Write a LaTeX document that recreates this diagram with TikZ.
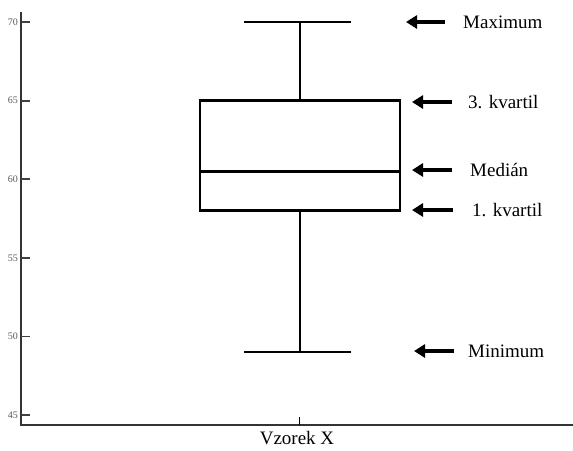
\documentclass[tikz,border=0pt]{standalone}
\usepackage{fontspec}
\setmainfont{Liberation Serif}
\usetikzlibrary{arrows.meta,calc}
\tikzset{
    axisline/.style={line width=2.6pt, color=black!80},
    tickline/.style={line width=1.8pt, color=black!75},
    ticklabel/.style={anchor=east, font=\fontsize{10}{11}\selectfont, text=black!65, inner sep=0pt},
    boxline/.style={line width=2.4pt, line cap=rect},
    ptr/.style={line width=4.5pt, -{Triangle[length=11pt,width=13pt]}},
    lbl/.style={anchor=west, font=\fontsize{19}{21}\selectfont, inner sep=0pt}
}
\newcommand{\yof}[1]{22+(70-#1)*15.72}

\begin{document}
\begin{tikzpicture}[x=1pt, y=-1pt]
    \useasboundingbox (0,0) rectangle (573,450);
    % axes
    \draw[axisline] (21,12) -- (21,425) -- (573,425);
    \foreach \v in {45,50,...,70} {
        \pgfmathsetmacro{\yy}{\yof{\v}}
        \draw[tickline] (21,\yy) -- (30,\yy);
        \node[ticklabel] (t\v) at (18,\yy) {\v};
    }
    \draw[line width=1pt] (299,417) -- (299,425);
    \node[font=\fontsize{19}{21}\selectfont, inner sep=0pt] (xlab) at (297,438) {Vzorek X};

    % box and whiskers
    \pgfmathsetmacro{\ymax}{\yof{70}}
    \pgfmathsetmacro{\yqc}{\yof{65}}
    \pgfmathsetmacro{\ymed}{\yof{60.5}}
    \pgfmathsetmacro{\yqa}{\yof{58}}
    \pgfmathsetmacro{\ymin}{\yof{49}}
    \draw[boxline] (200,\yqc) rectangle (400,\yqa);
    \draw[boxline] (200,\ymed) -- (400,\ymed);
    \draw[boxline] (300,\yqc) -- (300,\ymax);
    \draw[boxline] (300,\yqa) -- (300,\ymin);
    \draw[boxline] (245,\ymax) -- (350,\ymax);
    \draw[boxline] (245,\ymin) -- (350,\ymin);

    % labels
    \node[lbl] (maxl) at (463,22) {Maximum};
    \node[lbl] (qcl) at (468,102) {3. kvartil};
    \node[lbl] (medl) at (470,170) {Medián};
    \node[lbl] (qal) at (472,210) {1. kvartil};
    \node[lbl] (minl) at (468,351) {Minimum};

    \coordinate (maxp) at (406,22);
    \coordinate (qcp) at (412,102);
    \coordinate (medp) at (412,170);
    \coordinate (qap) at (412,210);
    \coordinate (minp) at (414,351);

    \draw[ptr, shorten <=18pt] (maxl.west) -- (maxp);
    \draw[ptr, shorten <=16pt] (qcl.west) -- (qcp);
    \draw[ptr, shorten <=18pt] (medl.west) -- (medp);
    \draw[ptr, shorten <=19pt] (qal.west) -- (qap);
    \draw[ptr, shorten <=14pt] (minl.west) -- (minp);
\end{tikzpicture}
\end{document}
